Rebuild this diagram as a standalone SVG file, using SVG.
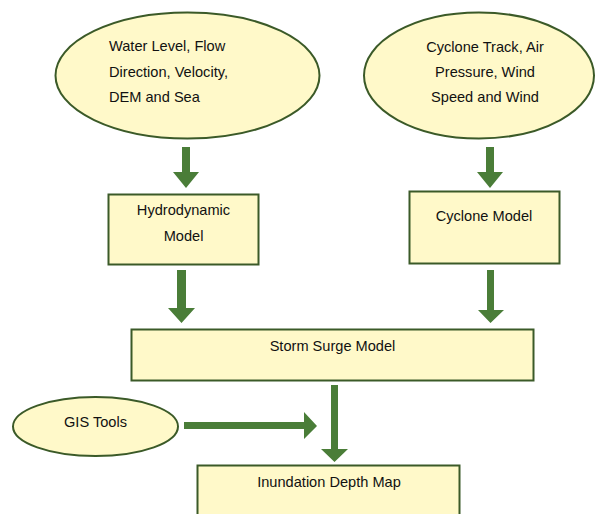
<svg xmlns="http://www.w3.org/2000/svg" width="596" height="514" viewBox="0 0 596 514">
  <style>
    .node { fill: #FFF9C9; stroke: #3B5A28; stroke-width: 2; }
    .label { font-family: "Liberation Sans", Arial, sans-serif; font-size: 14.6px; fill: #111111; }
    .mid { text-anchor: middle; }
    .arrow { fill: #4A7D38; }
  </style>
  <rect width="596" height="514" fill="#FFFFFF"/>

  <!-- block arrows -->
  <g id="connectors">
    <polygon class="arrow" points="182,147 190,147 190,172 199,172 186,188 173,172 182,172"/>
    <polygon class="arrow" points="486,147 494,147 494,172 503,172 490,188 477,172 486,172"/>
    <polygon class="arrow" points="177,270 186,270 186,308 195,308 181.5,323 168,308 177,308"/>
    <polygon class="arrow" points="487,270 494,270 494,310 504,310 490.5,323 478,310 487,310"/>
    <polygon class="arrow" points="331,385 338,385 338,449 348,449 334.5,462 321,449 331,449"/>
    <polygon class="arrow" points="184,422 304,422 304,412 317,426 304,439 304,429 184,429"/>
  </g>

  <g id="input-hydro">
    <ellipse class="node" cx="187.5" cy="75.5" rx="132" ry="63"/>
    <text class="label" x="109" y="51">Water Level, Flow</text>
    <text class="label" x="109" y="77">Direction, Velocity,</text>
    <text class="label" x="109" y="102">DEM and Sea</text>
  </g>

  <g id="input-cyclone">
    <ellipse class="node" cx="479" cy="75.5" rx="115" ry="63"/>
    <text class="label mid" x="485" y="52">Cyclone Track, Air</text>
    <text class="label mid" x="485" y="77">Pressure, Wind</text>
    <text class="label mid" x="485" y="102">Speed and Wind</text>
  </g>

  <g id="hydrodynamic-model">
    <rect class="node" x="108.5" y="194.5" width="150" height="70"/>
    <text class="label mid" x="183.5" y="215">Hydrodynamic</text>
    <text class="label mid" x="183.5" y="241">Model</text>
  </g>

  <g id="cyclone-model">
    <rect class="node" x="409.5" y="191.5" width="150" height="72"/>
    <text class="label mid" x="484" y="221">Cyclone Model</text>
  </g>

  <g id="storm-surge-model">
    <rect class="node" x="131.5" y="329.5" width="402" height="51"/>
    <text class="label mid" x="332.5" y="351">Storm Surge Model</text>
  </g>

  <g id="gis-tools">
    <ellipse class="node" cx="95.5" cy="426.5" rx="82.5" ry="29.5"/>
    <text class="label mid" x="95.5" y="427">GIS Tools</text>
  </g>

  <g id="inundation-depth-map">
    <rect class="node" x="197.5" y="465.5" width="262" height="60"/>
    <text class="label mid" x="329" y="487">Inundation Depth Map</text>
  </g>
</svg>
